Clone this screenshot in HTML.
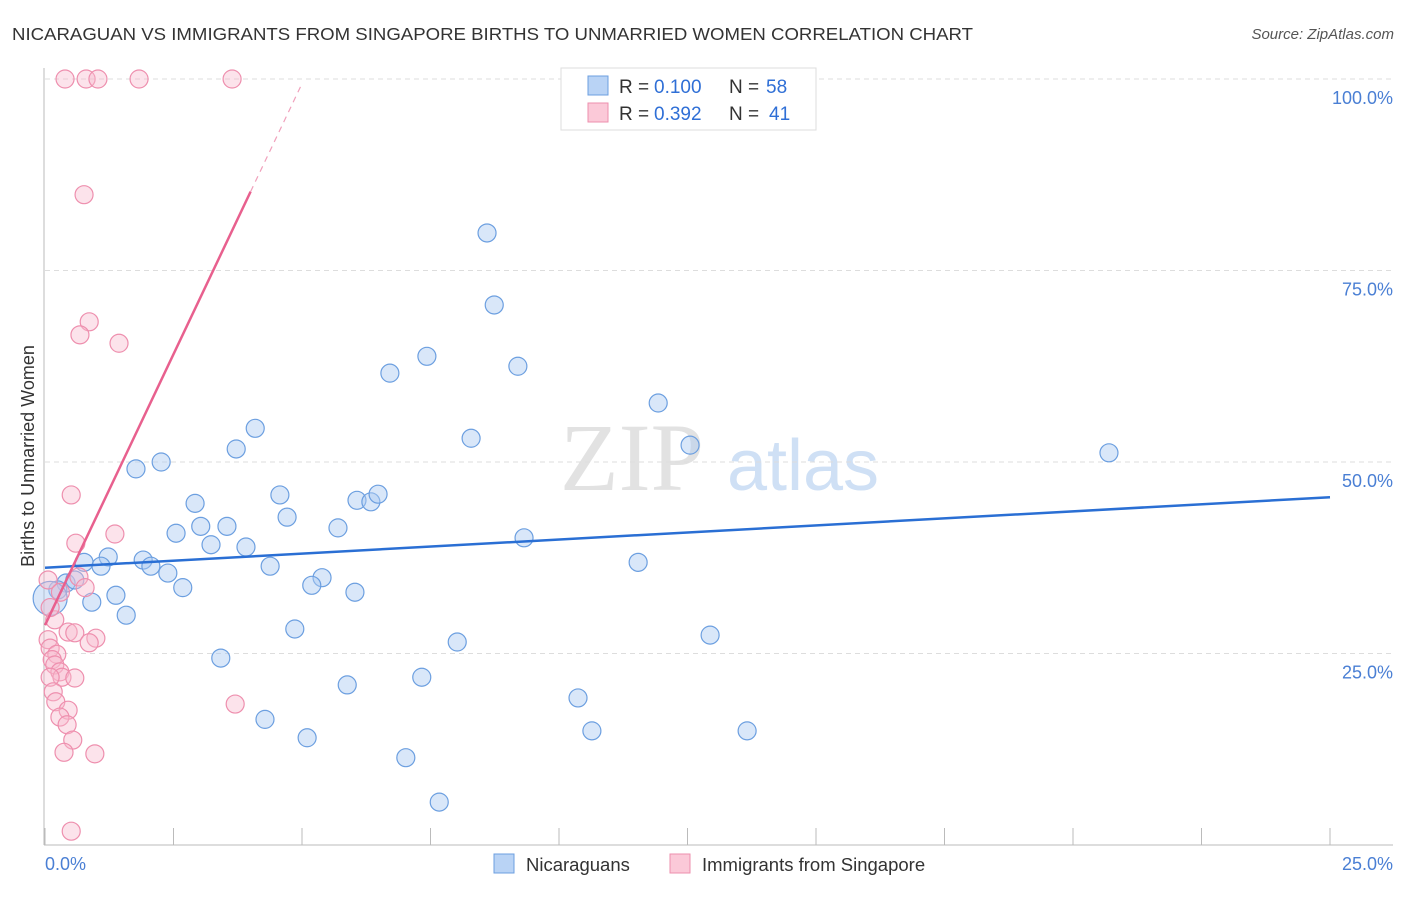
<!DOCTYPE html>
<html><head><meta charset="utf-8"><style>
body{margin:0;background:#fff;font-family:"Liberation Sans",sans-serif;}
</style></head><body>
<svg id="chart" width="1406" height="892" xmlns="http://www.w3.org/2000/svg" style="font-family:'Liberation Sans',sans-serif">
<text x="12" y="40" font-size="17.5" fill="#333" textLength="961" lengthAdjust="spacingAndGlyphs">NICARAGUAN VS IMMIGRANTS FROM SINGAPORE BIRTHS TO UNMARRIED WOMEN CORRELATION CHART</text>
<text x="1394" y="39" font-size="15" fill="#555" font-style="italic" text-anchor="end">Source: ZipAtlas.com</text>
<g>
<text x="632" y="490" font-size="96" fill="#e2e2e2" font-family="'Liberation Serif',serif" text-anchor="middle">ZIP</text>
<text x="803" y="490" font-size="72" fill="#cfe0f5" text-anchor="middle">atlas</text>
</g>
<g id="grid"></g>
<g id="axes"></g>
<g id="pts"></g>
<g id="trends"></g>
<text x="34" y="456" font-size="18" fill="#333" text-anchor="middle" transform="rotate(-90 34 456)">Births to Unmarried Women</text>
<text x="45" y="870" font-size="18" fill="#4a7fd4">0.0%</text>
<text x="1393" y="870" font-size="18" fill="#4a7fd4" text-anchor="end">25.0%</text>
<g>
<rect x="561" y="68" width="255" height="62" fill="#fff" stroke="#ddd"/>
<rect x="588" y="76" width="20" height="19" fill="#b9d3f5" stroke="#6c9fe0"/>
<text x="619" y="93" font-size="19" fill="#333">R =</text>
<text x="654" y="93" font-size="19" fill="#2f6fd6">0.100</text>
<text x="729" y="93" font-size="19" fill="#333">N =</text>
<text x="766" y="93" font-size="19" fill="#2f6fd6">58</text>
<rect x="588" y="103" width="20" height="19" fill="#fbc9d8" stroke="#ee8fae"/>
<text x="619" y="120" font-size="19" fill="#333">R =</text>
<text x="654" y="120" font-size="19" fill="#2f6fd6">0.392</text>
<text x="729" y="120" font-size="19" fill="#333">N =</text>
<text x="769" y="120" font-size="19" fill="#2f6fd6">41</text>
</g>
<g>
<rect x="494" y="854" width="20" height="19" fill="#b9d3f5" stroke="#6c9fe0"/>
<text x="526" y="871" font-size="18.5" fill="#333">Nicaraguans</text>
<rect x="670" y="854" width="20" height="19" fill="#fbc9d8" stroke="#ee8fae"/>
<text x="702" y="871" font-size="18.5" fill="#333">Immigrants from Singapore</text>
</g>
</svg>
<script>
const yTicks=[25,50,75,100];
const yTickLabels=["25.0%","50.0%","75.0%","100.0%"];
const xTicks=[0,2.5,5,7.5,10,12.5,15,17.5,20,22.5,25];
const blueX=[8.60,8.74,9.20,7.43,6.71,11.93,8.29,12.55,20.70,4.09,3.72,2.26,1.77,2.92,4.57,4.71,6.07,6.34,6.48,5.70,9.32,2.55,3.03,3.54,3.23,3.91,1.23,0.76,1.09,1.91,2.06,2.39,4.38,11.54,5.39,5.19,2.68,6.03,1.38,0.91,1.58,0.41,0.25,0.58,4.86,12.94,8.02,3.42,5.88,7.33,10.37,4.28,10.64,13.66,5.10,7.02,7.67,0.10];
const blueY=[79.9,70.5,62.5,63.8,61.6,57.7,53.1,52.2,51.2,54.4,51.7,50.0,49.1,44.6,45.7,42.8,45.0,44.8,45.8,41.4,40.1,40.7,41.6,41.6,39.2,38.9,37.6,36.9,36.4,37.2,36.4,35.5,36.4,36.9,34.9,33.9,33.6,33.0,32.6,31.7,30.0,34.2,33.3,34.6,28.2,27.4,26.5,24.4,20.9,21.9,19.2,16.4,14.9,14.9,14.0,11.4,5.6,32.2];
const blueR=[9,9,9,9,9,9,9,9,9,9,9,9,9,9,9,9,9,9,9,9,9,9,9,9,9,9,9,9,9,9,9,9,9,9,9,9,9,9,9,9,9,9,9,9,9,9,9,9,9,9,9,9,9,9,9,9,9,17];
const pinkX=[0.39,0.80,1.03,1.83,3.64,0.76,0.86,0.68,1.44,0.51,1.36,0.60,0.66,0.78,0.06,0.19,0.45,0.58,0.99,0.86,0.06,0.10,0.23,0.14,0.19,0.29,0.33,0.58,0.10,0.16,0.21,0.45,0.29,0.43,0.54,0.37,0.97,3.70,0.51,0.10,0.30];
const pinkY=[100,100,100,100,100,84.9,68.3,66.6,65.5,45.7,40.6,39.4,35.0,33.6,34.6,29.4,27.8,27.7,27.0,26.4,26.8,25.7,24.9,24.2,23.5,22.6,21.9,21.8,21.9,20.0,18.7,17.6,16.7,15.7,13.7,12.1,11.9,18.4,1.8,31.0,33.0];
const blueTrend=[0,36.2,25,45.4];
const pinkTrend=[0,28.7,4.0,85.3,5.0,99.4];
const X0=45,X1=1330,Y0=845,Y100=79;
const sx=v=>X0+(X1-X0)*v/25, sy=v=>Y0-(Y0-Y100)*v/100;
const NS="http://www.w3.org/2000/svg";
function mk(p,t,a){const e=document.createElementNS(NS,t);for(const k in a)e.setAttribute(k,a[k]);p.appendChild(e);return e;}
const grid=document.getElementById('grid'),axes=document.getElementById('axes'),pts=document.getElementById('pts'),tr=document.getElementById('trends');
yTicks.forEach((v,i)=>{
 const l=mk(grid,'line',{x1:X0,x2:1393,y1:sy(v),y2:sy(v),stroke:'#ddd','stroke-dasharray':'5,4'});
 
 
 const t=mk(axes,'text',{x:1393,y:sy(v)+25,'font-size':18,fill:'#4a7fd4','text-anchor':'end'});
 t.textContent=yTickLabels[i];
 
 
});
const ya=mk(axes,'line',{x1:X0-1,x2:X0-1,y1:68,y2:Y0,stroke:'#bbb'});


const xa=mk(axes,'line',{x1:X0-1,x2:1393,y1:Y0,y2:Y0,stroke:'#bbb'});


xTicks.forEach(v=>{
 const t=mk(axes,'line',{x1:sx(v),x2:sx(v),y1:828,y2:Y0,stroke:'#bbb'});
 
 
});
blueX.forEach((x,i)=>{
 const c=mk(pts,'circle',{cx:sx(x),cy:sy(blueY[i]),r:blueR[i],fill:'rgba(170,202,242,0.45)',stroke:'#6c9fe0','stroke-width':1.2});
 
 
});
pinkX.forEach((x,i)=>{
 const c=mk(pts,'circle',{cx:sx(x),cy:sy(pinkY[i]),r:9,fill:'rgba(248,185,205,0.4)',stroke:'#ee8fae','stroke-width':1.2});
 
 
});
const bl=mk(tr,'line',{x1:sx(blueTrend[0]),y1:sy(blueTrend[1]),x2:sx(blueTrend[2]),y2:sy(blueTrend[3]),stroke:'#2a6fd4','stroke-width':2.5});


const pl=mk(tr,'line',{x1:sx(pinkTrend[0]),y1:sy(pinkTrend[1]),x2:sx(pinkTrend[2]),y2:sy(pinkTrend[3]),stroke:'#e8608e','stroke-width':2.5});


const pd=mk(tr,'line',{x1:sx(pinkTrend[2]),y1:sy(pinkTrend[3]),x2:sx(pinkTrend[4]),y2:sy(pinkTrend[5]),stroke:'#f0a0bb','stroke-width':1.2,'stroke-dasharray':'6,5'});


</script>
</body></html>
